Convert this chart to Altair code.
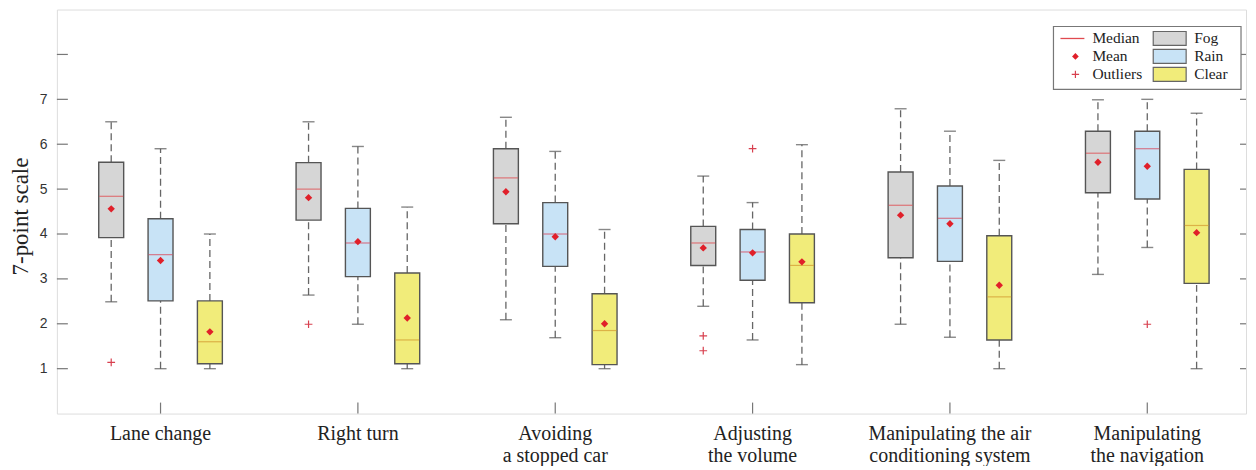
import altair as alt
import pandas as pd

# ---------------- data ----------------
tasks = ["Lane change", "Right turn", "Avoiding\na stopped car", "Adjusting\nthe volume",
         "Manipulating the air\nconditioning system", "Manipulating\nthe navigation"]
conditions = ["Fog", "Rain", "Clear"]
fill_colors = ["#d6d6d6", "#c8e3f6", "#f1ec7a"]
median_colors = ["#e04a4f", "#d8485c", "#d39a30"]

# order: task-major, then Fog, Rain, Clear
whisker_low = [2.49, 1.00, 1.00, 2.64, 1.99, 1.00, 2.09, 1.69, 1.00,
               2.39, 1.64, 1.09, 1.99, 1.70, 1.00, 3.10, 3.70, 1.00]
q1 = [3.92, 2.51, 1.11, 4.31, 3.05, 1.11, 4.23, 3.28, 1.09,
      3.30, 2.97, 2.47, 3.47, 3.39, 1.64, 4.92, 4.78, 2.90]
median = [4.84, 3.54, 1.60, 5.00, 3.80, 1.64, 5.25, 4.00, 1.85,
          3.80, 3.60, 3.30, 4.64, 4.35, 2.60, 5.80, 5.90, 4.19]
mean = [4.56, 3.41, 1.82, 4.81, 3.83, 2.13, 4.94, 3.94, 2.00,
        3.69, 3.58, 3.38, 4.42, 4.23, 2.86, 5.60, 5.51, 4.03]
q3 = [5.60, 4.34, 2.51, 5.59, 4.57, 3.13, 5.90, 4.70, 2.67,
      4.17, 4.10, 4.00, 5.38, 5.07, 3.96, 6.29, 6.29, 5.44]
whisker_high = [6.50, 5.90, 4.00, 6.50, 5.95, 4.60, 6.60, 5.84, 4.10,
                5.29, 4.70, 5.99, 6.79, 6.29, 5.64, 6.99, 7.00, 6.69]

outlier_task = [0, 1, 3, 3, 3, 5]
outlier_cond = ["Fog", "Fog", "Fog", "Fog", "Rain", "Rain"]
outlier_value = [1.14, 1.99, 1.73, 1.40, 5.90, 1.99]

y_tick_values = [1, 2, 3, 4, 5, 6, 7, 8]
y_label_values = [1, 2, 3, 4, 5, 6, 7]
legend_stats = ["Median", "Mean", "Outliers"]

# ---------------- tables ----------------
rows = []
for t in range(len(tasks)):
    for c, cond in enumerate(conditions):
        i = t * 3 + c
        rows.append(dict(task=t, cond=cond, pos=t * 4 + c,
                         wl=whisker_low[i], q1=q1[i], med=median[i], mean=mean[i],
                         q3=q3[i], wh=whisker_high[i],
                         fill=fill_colors[c], mcol=median_colors[c]))
df = pd.DataFrame(rows)

odf = pd.DataFrame(dict(pos=[t * 4 + conditions.index(c) for t, c in zip(outlier_task, outlier_cond)],
                        val=outlier_value))
gdf = pd.DataFrame(dict(center=[t * 4 + 1 for t in range(len(tasks))], label=tasks))
tdf = pd.DataFrame(dict(v=y_tick_values))

W, H = 1192, 405
SERIF = "Liberation Serif"
SANS = "Liberation Sans"
xs = alt.Scale(domain=[-1, 22.9], nice=False, zero=False)
ys = alt.Scale(domain=[0, 9], nice=False, zero=False)

yaxis = alt.Axis(values=y_label_values, ticks=False, domain=False, grid=False,
                 labelFont=SANS, labelFontSize=14, labelColor="#333", labelPadding=10,
                 title="7-point scale", titleFont=SERIF, titleFontSize=23,
                 titleFontWeight="normal", titleColor="#222", titleX=-36, titleY=207,
                 titleAngle=270, titleAlign="center", titleBaseline="middle")

base = alt.Chart(df)
X = alt.X("pos:Q", scale=xs, axis=None)

whisk_lo = base.mark_rule(color="#666", strokeWidth=1.3, strokeDash=[7, 4]).encode(
    x=X, y=alt.Y("wl:Q", scale=ys, axis=yaxis), y2="q1:Q")
whisk_hi = base.mark_rule(color="#666", strokeWidth=1.3, strokeDash=[7, 4]).encode(
    x=X, y=alt.Y("q3:Q", scale=ys), y2="wh:Q")
cap_lo = base.mark_tick(orient="horizontal", size=12, thickness=1.4, color="#555").encode(
    x=X, y=alt.Y("wl:Q", scale=ys))
cap_hi = base.mark_tick(orient="horizontal", size=12, thickness=1.4, color="#555").encode(
    x=X, y=alt.Y("wh:Q", scale=ys))
box = base.mark_bar(size=25, stroke="#555", strokeWidth=1.4).encode(
    x=X, y=alt.Y("q1:Q", scale=ys), y2="q3:Q", fill=alt.Fill("fill:N", scale=None))
med = base.mark_tick(orient="horizontal", size=24, thickness=1.2).encode(
    x=X, y=alt.Y("med:Q", scale=ys), color=alt.Color("mcol:N", scale=None))
mn = base.mark_point(shape="diamond", filled=True, color="#e0202a", size=55, opacity=1).encode(
    x=X, y=alt.Y("mean:Q", scale=ys))
outl = alt.Chart(odf).mark_point(shape="M-1,0L1,0M0,-1L0,1", filled=False, color="#d8404f",
                                 strokeWidth=1.2, size=60, opacity=1).encode(
    x=alt.X("pos:Q", scale=xs), y=alt.Y("val:Q", scale=ys))

# inward ticks
tick_l = alt.Chart(tdf).mark_rule(color="#777", strokeWidth=1.2).encode(
    y=alt.Y("v:Q", scale=ys), x=alt.value(0), x2=alt.value(11))
tick_r = alt.Chart(tdf).mark_rule(color="#777", strokeWidth=1.2).encode(
    y=alt.Y("v:Q", scale=ys), x=alt.value(W - 6), x2=alt.value(W))
tick_b = alt.Chart(gdf).mark_rule(color="#777", strokeWidth=1.2).encode(
    x=alt.X("center:Q", scale=xs), y=alt.value(H), y2=alt.value(H - 11))
xlab = alt.Chart(gdf).mark_text(font=SERIF, fontSize=20, baseline="top", align="center",
                                lineBreak="\n", lineHeight=23, color="#222").encode(
    x=alt.X("center:Q", scale=xs), y=alt.value(H + 10), text="label:N")

# ---------------- legend (drawn) ----------------
one = pd.DataFrame({"a": [0]})
LX0, LX1, LY0, LY1 = 999, 1187, 17, 80
row_y = [29, 47, 65]
leg = [alt.Chart(one).mark_rect(fill="white", stroke="#777", strokeWidth=1.2).encode(
    x=alt.value(LX0), x2=alt.value(LX1), y=alt.value(LY0), y2=alt.value(LY1))]
leg.append(alt.Chart(one).mark_rule(color="#e04a4f", strokeWidth=1.3).encode(
    x=alt.value(1006), x2=alt.value(1030), y=alt.value(row_y[0])))
leg.append(alt.Chart(one).mark_point(shape="diamond", filled=True, color="#e0202a", size=45,
                                     opacity=1).encode(x=alt.value(1021), y=alt.value(row_y[1])))
leg.append(alt.Chart(one).mark_point(shape="M-1,0L1,0M0,-1L0,1", filled=False, color="#d8404f",
                                     strokeWidth=1.2, size=55, opacity=1).encode(
    x=alt.value(1021), y=alt.value(row_y[2])))
for i, s in enumerate(legend_stats):
    leg.append(alt.Chart(one).mark_text(text=s, font=SERIF, fontSize=15.5, align="left",
                                        baseline="middle", color="#222").encode(
        x=alt.value(1038), y=alt.value(row_y[i])))
for i, c in enumerate(conditions):
    leg.append(alt.Chart(one).mark_rect(fill=fill_colors[i], stroke="#666", strokeWidth=1.2).encode(
        x=alt.value(1099), x2=alt.value(1132), y=alt.value(row_y[i] - 7), y2=alt.value(row_y[i] + 7)))
    leg.append(alt.Chart(one).mark_text(text=c, font=SERIF, fontSize=15.5, align="left",
                                        baseline="middle", color="#222").encode(
        x=alt.value(1140), y=alt.value(row_y[i])))

chart = alt.layer(whisk_lo, whisk_hi, cap_lo, cap_hi, box, med, mn, outl,
                  tick_l, tick_r, tick_b, xlab, *leg).properties(
    width=W, height=H,
    autosize=alt.AutoSizeParams(type="none"),
    padding={"left": 49, "top": 1, "right": 2, "bottom": 52},
).configure_view(stroke="#808080", strokeWidth=1.2).configure(background="white")

chart.save("out.html", embed_options={"renderer": "svg", "actions": False})
